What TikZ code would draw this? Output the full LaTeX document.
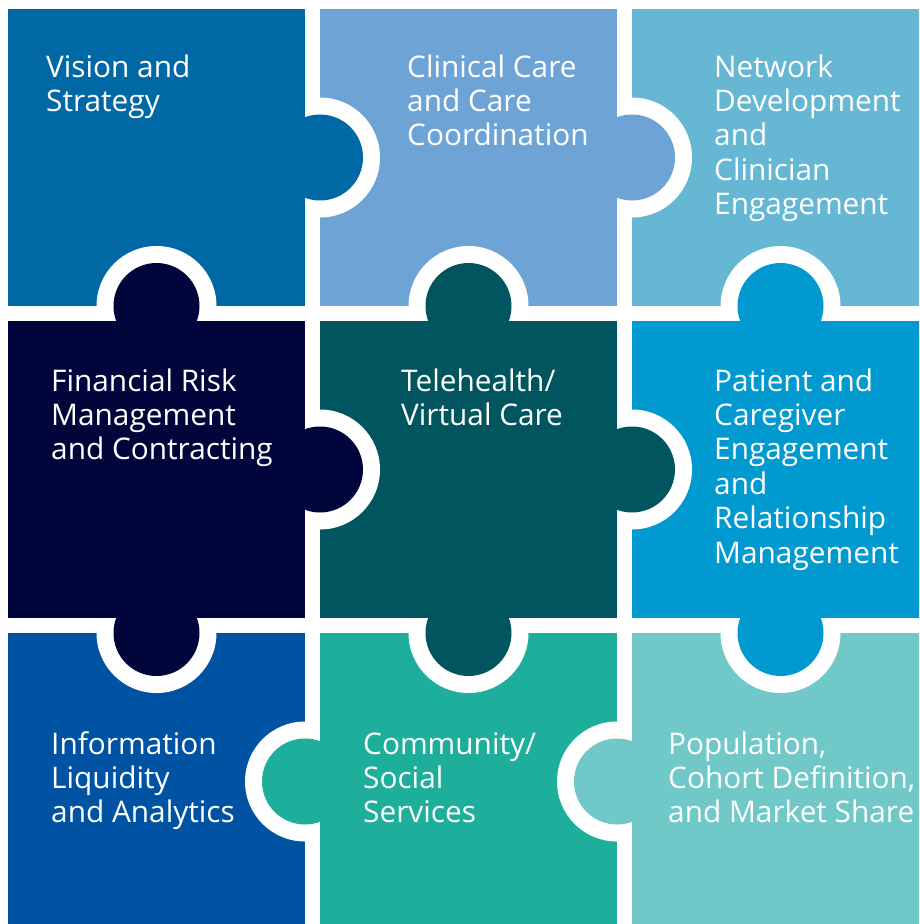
\documentclass[tikz,border=0pt]{standalone}
\usepackage{fontspec}
\setmainfont{Open Sans}
\usetikzlibrary{positioning}

\definecolor{vision}{HTML}{0069A5}
\definecolor{clinical}{HTML}{6EA3D6}
\definecolor{network}{HTML}{65B7D4}
\definecolor{financial}{HTML}{00053B}
\definecolor{telehealth}{HTML}{00555F}
\definecolor{patient}{HTML}{009AD1}
\definecolor{information}{HTML}{0053A3}
\definecolor{community}{HTML}{1EAF9C}
\definecolor{population}{HTML}{70C9C8}

\tikzset{
  tile/.style={rectangle, minimum size=297pt, inner sep=0pt, outer sep=0pt},
  % anchored at the baseline of the last line
  tiletext/.style={anchor=base west, align=left, inner sep=0pt, text=white,
    font=\fontsize{29.8}{34.4}\selectfont},
}

\begin{document}
\begin{tikzpicture}[x=1pt, y=-1pt, node distance=15pt]
\useasboundingbox (0,0) rectangle (919,924);
\clip (0,0) rectangle (919,924);

% the nine pieces
\node[tile, fill=vision] (vision) at (156.5,157.5) {};
\node[tile, fill=clinical, right=of vision] (clinical) {};
\node[tile, fill=network, right=of clinical] (network) {};
\node[tile, fill=financial, below=of vision] (financial) {};
\node[tile, fill=telehealth, right=of financial] (telehealth) {};
\node[tile, fill=patient, right=of telehealth] (patient) {};
\node[tile, fill=information, below=of financial] (information) {};
\node[tile, fill=community, right=of information] (community) {};
\node[tile, fill=population, right=of community] (population) {};

% knobs: owner piece / host piece / edge of host
\foreach \owner/\host/\side in {
    vision/clinical/west, clinical/network/west,
    financial/vision/south, telehealth/clinical/south, patient/network/south,
    financial/telehealth/west, telehealth/patient/west,
    financial/information/north, telehealth/community/north, patient/population/north,
    community/information/east, population/community/east} {
  \begin{scope}
    \clip (\host.south west) rectangle (\host.north east);
    \fill[white] (\host.\side) circle (60pt);
  \end{scope}
  \fill[\owner] (\host.\side) circle (43pt);
}

% labels
\node[tiletext] (visiontext) at (46,111.4) {Vision and\\Strategy};
\node[tiletext] (clinicaltext) at (407,145.8) {Clinical Care\\and Care\\Coordination};
\node[tiletext] (networktext) at (714,214.6) {Network\\Development\\and\\Clinician\\Engagement};
\node[tiletext] (financialtext) at (51,459.8) {Financial Risk\\Management\\and Contracting};
\node[tiletext] (telehealthtext) at (401,425.4) {Telehealth/\\Virtual Care};
\node[tiletext] (patienttext) at (714,563) {Patient and\\Caregiver\\Engagement\\and\\Relationship\\Management};
\node[tiletext] (informationtext) at (51,822.8) {Information\\Liquidity\\and Analytics};
\node[tiletext] (communitytext) at (363,822.8) {Community/\\Social\\Services};
\node[tiletext] (populationtext) at (668,822.8) {Population,\\Cohort Definition,\\and Market Share};
\end{tikzpicture}
\end{document}
